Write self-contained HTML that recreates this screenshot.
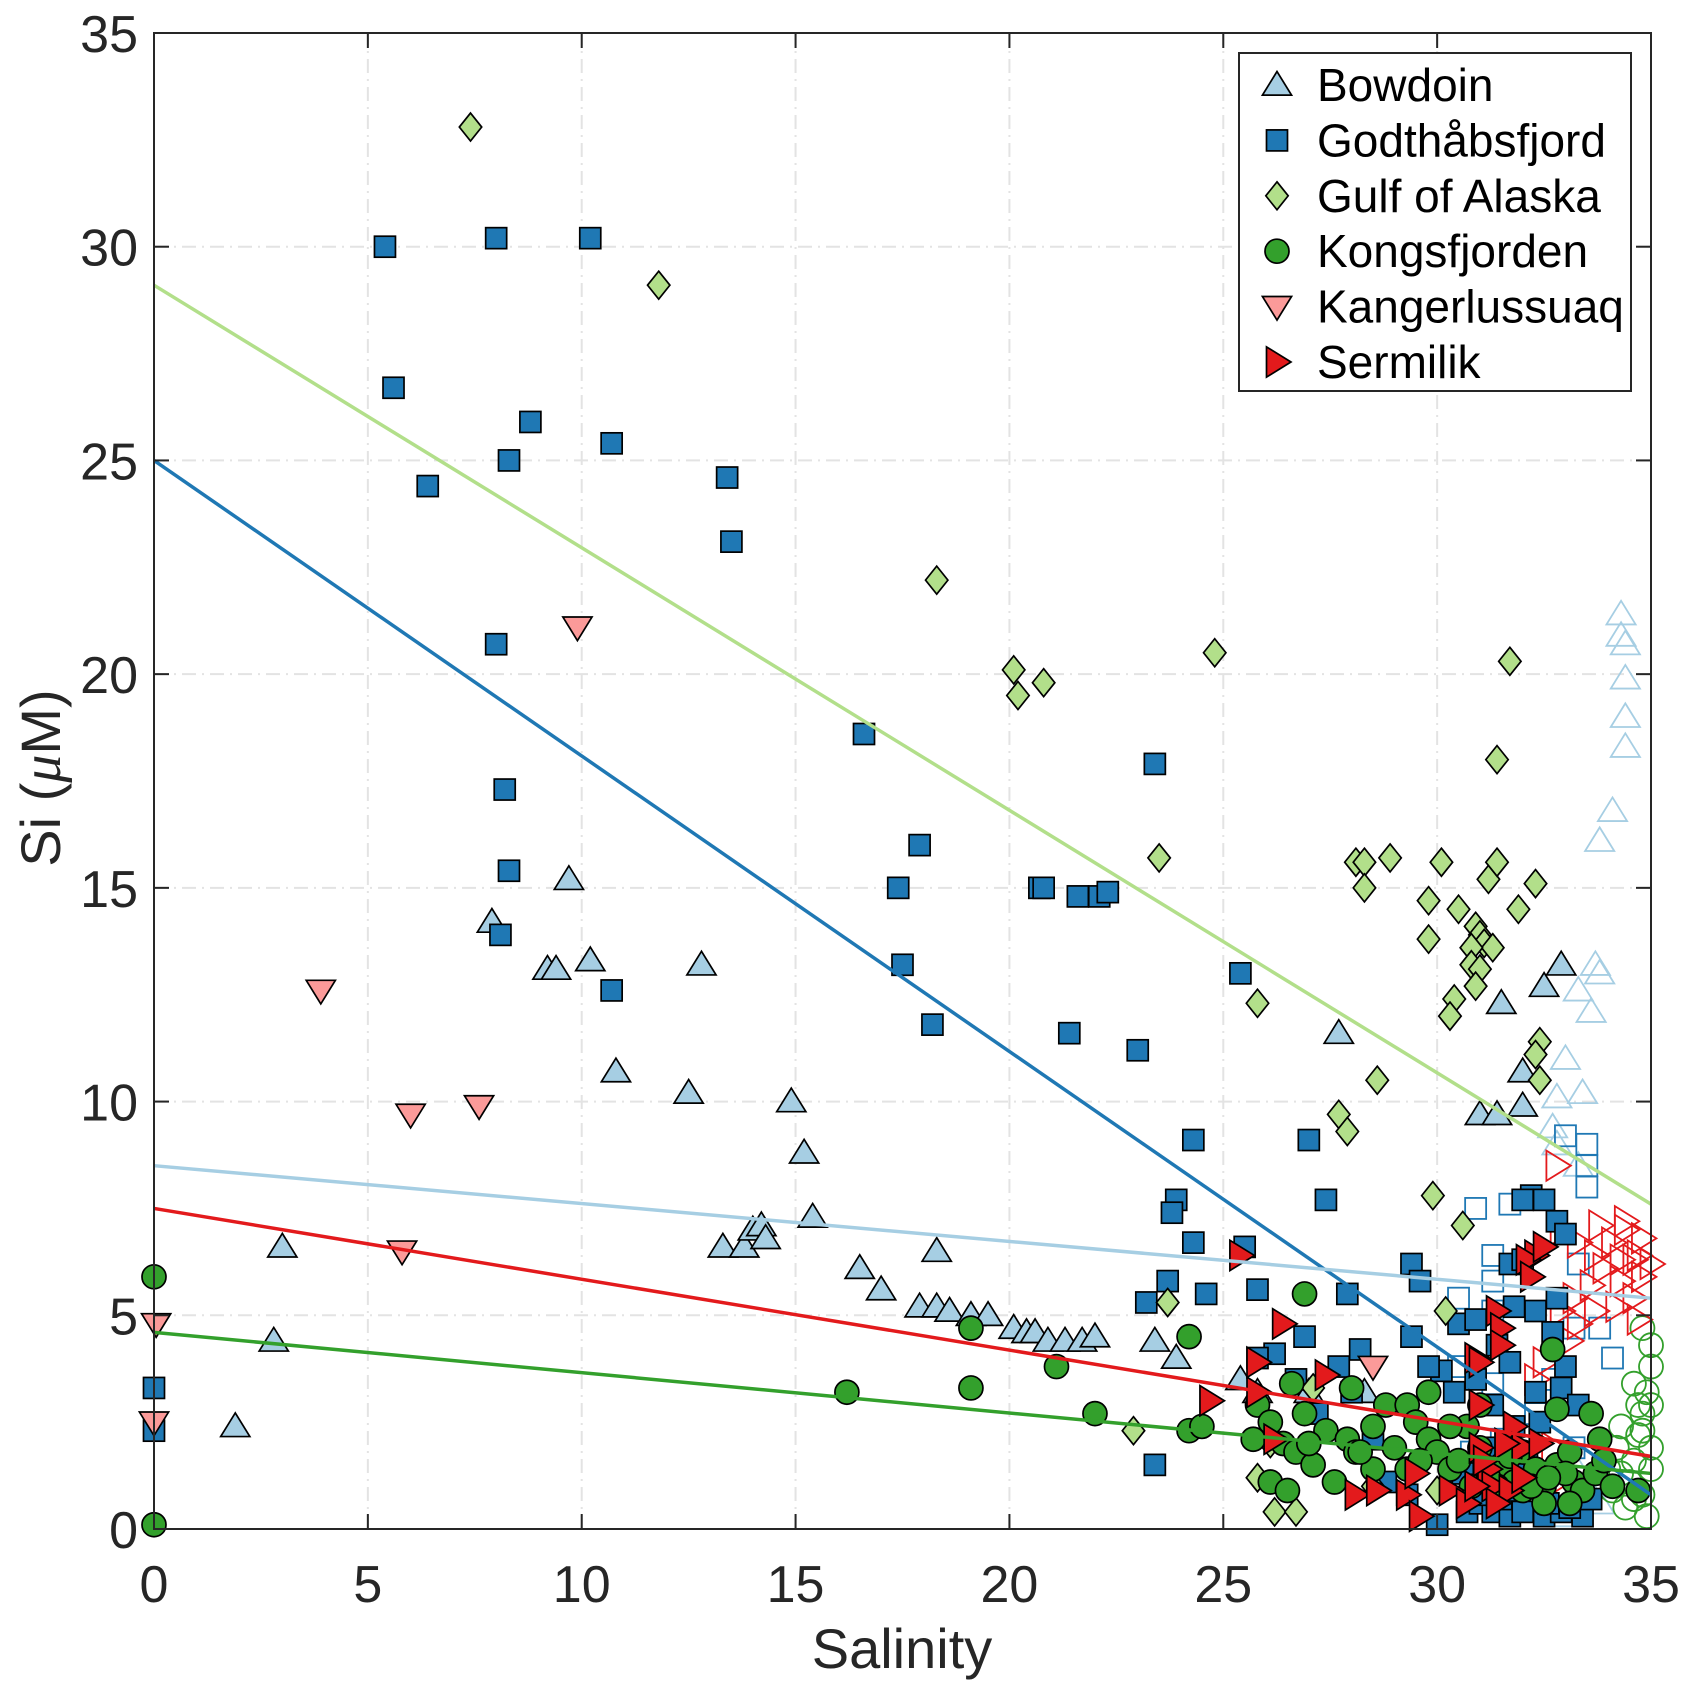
<!DOCTYPE html>
<html><head><meta charset="utf-8"><style>
html,body{margin:0;padding:0;background:#fff;}
svg{display:block;font-family:"Liberation Sans",Arial,sans-serif;}
</style></head><body>
<svg id="chart" width="1693" height="1695" viewBox="0 0 1693 1695" xmlns="http://www.w3.org/2000/svg">
<rect width="1693" height="1695" fill="#fff"/>
<g id="grid"></g>
<g id="points"></g>
<g id="fits"></g>
<g id="axes"></g>
<g id="legend"></g>
</svg>
<script>
const xTicks=[0,5,10,15,20,25,30,35];
const yTicks=[0,5,10,15,20,25,30,35];
const seriesNames=["Bowdoin","Godthåbsfjord","Gulf of Alaska","Kongsfjorden","Kangerlussuaq","Sermilik"];
const fitBowdoin=[8.5,5.4];
const fitGodthab=[25.0,0.8];
const fitAlaska=[29.1,7.6];
const fitKongs=[4.6,1.3];
const fitSermilik=[7.5,1.7];
const bowdoinX=[1.9,2.8,3.0,7.9,9.7,9.2,9.4,10.2,10.8,12.5,12.8,14.9,15.2,15.4,13.3,13.8,14.0,14.2,14.3,16.5,17.0,17.9,18.3,18.3,18.6,19.1,19.5,20.1,20.4,20.6,20.9,21.3,21.7,22.0,23.4,23.9,25.4,25.8,27.7,31.5,32.5,32.9,31.0,31.4,32.0,32.0,27.0,28.3];
const bowdoinY=[2.4,4.4,6.6,14.2,15.2,13.1,13.1,13.3,10.7,10.2,13.2,10.0,8.8,7.3,6.6,6.6,7.0,7.1,6.8,6.1,5.6,5.2,5.2,6.5,5.1,5.0,5.0,4.7,4.6,4.6,4.4,4.4,4.4,4.5,4.4,4.0,3.5,3.2,11.6,12.3,12.7,13.2,9.7,9.7,10.7,9.9,3.2,3.2];
const bowdoinOpenX=[34.3,34.3,34.4,34.4,34.4,34.4,34.1,33.8,33.7,33.8,33.6,33.3,33.0,33.4,32.8,32.7,32.8,33.3,33.5,33.8,33.2,33.0];
const bowdoinOpenY=[21.4,20.9,20.7,19.9,19.0,18.3,16.8,16.1,13.2,13.0,12.1,12.6,11.0,10.2,10.1,9.4,9.0,8.5,1.0,0.6,1.5,0.3];
const godthabX=[0,0,5.4,5.6,6.4,8.0,10.2,8.8,8.3,10.7,13.4,13.5,8.0,8.2,8.3,8.1,10.7,16.6,17.9,17.4,17.5,18.2,20.7,20.8,21.6,22.1,22.3,21.4,23.0,23.4,25.4,24.3,27.0,27.4,23.9,23.8,24.3,25.5,23.7,24.6,25.8,23.2,23.4,27.9,29.4,29.6,29.4,26.9,26.2,25.8,28.2,27.7,26.7,30.5,30.9,30.1,29.8,30.4,30.0,30.7,31.0,31.3,31.7,32.0,32.5,32.9,33.4,32.2,32.0,32.5,32.8,31.7,32.0,31.8,32.3,32.8,31.4,31.7,33.0,32.3,31.3,31.8,31.2,32.1,32.9,33.3,31.4,28.8,29.3,28.0,27.2,28.5,31.0,31.5,32.6,33.1,31.9,30.6,33.6,32.4,31.6,30.9,32.7,33.0];
const godthabY=[3.3,2.3,30.0,26.7,24.4,30.2,30.2,25.9,25.0,25.4,24.6,23.1,20.7,17.3,15.4,13.9,12.6,18.6,16.0,15.0,13.2,11.8,15.0,15.0,14.8,14.8,14.9,11.6,11.2,17.9,13.0,9.1,9.1,7.7,7.7,7.4,6.7,6.6,5.8,5.5,5.6,5.3,1.5,5.5,6.2,5.8,4.5,4.5,4.1,4.0,4.2,3.8,3.5,4.8,4.9,3.7,3.8,3.2,0.1,0.4,0.6,0.4,0.3,0.4,0.3,0.4,0.3,7.8,7.7,7.7,7.2,6.2,6.3,5.2,5.1,5.4,4.3,3.9,3.8,3.2,2.9,2.4,1.9,1.6,3.3,2.9,1.1,1.1,0.8,3.2,2.7,2.1,0.8,0.7,0.6,0.5,0.9,1.3,0.7,2.5,2.0,3.5,4.6,6.9];
const godthabOpenX=[33.0,33.5,33.5,33.5,30.9,31.7,31.3,31.3,30.5,31.3,33.3,33.2,33.8,34.1,32.7,32.3,31.5,30.8,33.2,32.8,30.5,31.3];
const godthabOpenY=[9.2,9.0,8.5,8.0,7.5,7.6,6.4,5.8,5.4,5.1,6.2,4.7,4.7,4.0,3.5,2.7,2.1,1.8,1.9,0.5,3.8,3.4];
const alaskaX=[7.4,11.8,18.3,20.1,20.2,20.8,24.8,31.7,31.4,23.5,28.1,28.3,28.3,28.9,30.1,29.8,30.5,31.2,31.4,31.9,32.3,30.9,31.0,29.8,31.1,31.3,30.8,30.8,31.0,30.9,30.4,30.3,25.8,32.4,32.3,32.4,28.6,27.7,27.9,29.9,30.6,23.7,30.2,27.1,22.9,25.8,26.2,26.7,28.5,30.0,26.1];
const alaskaY=[32.8,29.1,22.2,20.1,19.5,19.8,20.5,20.3,18.0,15.7,15.6,15.6,15.0,15.7,15.6,14.7,14.5,15.2,15.6,14.5,15.1,14.1,13.9,13.8,13.7,13.6,13.6,13.2,13.1,12.7,12.4,12.0,12.3,11.4,11.1,10.5,10.5,9.7,9.3,7.8,7.1,5.3,5.1,3.3,2.3,1.2,0.4,0.4,1.0,0.9,2.0];
const kongsX=[0,0,16.2,19.1,19.1,21.1,22.0,24.2,24.2,24.5,26.9,25.8,26.1,25.7,26.4,26.6,26.7,27.1,26.9,27.4,28.0,27.9,28.1,28.5,28.8,29.0,29.3,29.5,29.8,30.0,30.3,29.3,28.5,27.6,26.1,26.5,30.7,31.0,31.5,31.8,32.0,32.3,32.5,32.8,33.1,33.2,33.4,33.7,33.8,33.6,32.8,32.0,31.4,30.8,30.3,29.8,34.7,32.7,32.5,31.0,33.1,30.5,31.2,32.2,33.0,33.9,34.1,29.6,28.2,27.0,31.7,32.6];
const kongsY=[5.9,0.1,3.2,3.3,4.7,3.8,2.7,4.5,2.3,2.4,5.5,2.9,2.5,2.1,2.0,3.4,1.8,1.5,2.7,2.3,3.3,2.1,1.8,2.4,2.9,1.9,2.9,2.5,2.1,1.8,1.4,1.4,1.4,1.1,1.1,0.9,2.4,1.9,1.5,1.1,1.8,1.4,1.0,1.5,1.8,1.1,0.9,1.3,2.1,2.7,2.8,0.9,1.0,1.0,2.4,3.2,0.9,4.2,0.6,2.9,0.6,1.6,1.2,1.0,1.3,1.6,1.0,1.6,1.8,2.0,1.7,1.2];
const kongsOpenX=[35,35,34.9,35,34.8,34.8,35,34.6,34.3,34.1,34.4,34.8,35,34.7,34.3,34.7,34.6,34.2,34.8,34.5,34.9,34.0,34.6];
const kongsOpenY=[4.3,3.8,3.2,2.9,2.7,2.3,1.9,1.6,1.3,0.9,0.5,0.8,1.4,2.2,2.4,2.9,3.4,1.9,4.7,1.1,0.3,1.4,0.7];
const kangerX=[0.05,0,3.9,6.0,7.6,5.8,9.9,28.5];
const kangerY=[4.8,2.5,12.6,9.7,9.9,6.5,21.1,3.8];
const sermilikX=[25.4,24.7,25.8,26.4,27.4,25.8,26.2,28.1,28.6,29.3,29.6,29.5,30.9,31.0,31.4,31.5,31.5,31.0,31.0,31.2,31.3,31.7,31.8,32.0,32.4,32.3,32.1,32.2,32.5,30.3,30.7,31.1,31.6,32.0,31.4,30.9];
const sermilikY=[6.4,3.0,3.9,4.8,3.6,3.2,2.1,0.8,0.9,0.8,0.3,1.3,4.0,3.9,5.1,4.7,4.3,2.9,1.9,1.4,1.0,0.9,2.4,1.9,2.0,6.4,6.3,5.9,6.6,0.9,0.6,1.6,2.0,1.2,0.6,1.0];
const sermilikOpenX=[32.9,33.3,33.7,34.1,34.4,34.7,34.8,34.3,33.9,33.6,33.2,32.9,33.3,33.7,34.2,34.6,34.8,34.3,32.8,33.1,32.5,32.3,34.7,35.0,32.7,32.4,32.8,33.8,34.4,34.6];
const sermilikOpenY=[7.0,6.7,6.4,6.7,7.0,6.4,5.9,5.8,6.1,5.7,5.4,5.1,4.8,5.1,5.2,5.4,6.8,6.3,8.5,4.4,3.9,3.5,4.9,6.2,1.9,1.4,1.1,7.1,7.2,6.3];

const NS="http://www.w3.org/2000/svg";
const X0=154,X1=1651,Y0=1529,Y1=33;
function sx(v){return X0+v*(X1-X0)/35;}
function sy(v){return Y0-v*(Y0-Y1)/35;}
function mk(tag,attrs,parent){const e=document.createElementNS(NS,tag);for(const k in attrs)e.setAttribute(k,attrs[k]);parent.appendChild(e);return e;}
const grid=document.getElementById('grid'),pts=document.getElementById('points'),fits=document.getElementById('fits'),axes=document.getElementById('axes'),leg=document.getElementById('legend');

xTicks.forEach(t=>{
  const l=mk('line',{x1:sx(t),x2:sx(t),y1:Y0,y2:Y1,stroke:'#e3e3e3','stroke-width':2,'stroke-dasharray':'14 6 2 6'},grid);
  
  
});
yTicks.forEach(t=>{
  const l=mk('line',{x1:X0,x2:X1,y1:sy(t),y2:sy(t),stroke:'#e3e3e3','stroke-width':2,'stroke-dasharray':'14 6 2 6'},grid);
  
  
});

function marker(shape,x,y,fill,stroke,sw,parent){
  let e;
  if(shape==='tri'){const r=13.5;e=mk('polygon',{points:`${x},${y-r} ${x-r*1.08},${y+r*0.75} ${x+r*1.08},${y+r*0.75}`},parent);}
  else if(shape==='sq'){e=mk('rect',{x:x-10.5,y:y-10.5,width:21,height:21},parent);}
  else if(shape==='dia'){const r=14;e=mk('polygon',{points:`${x},${y-r} ${x+r*0.8},${y} ${x},${y+r} ${x-r*0.8},${y}`},parent);}
  else if(shape==='circ'){e=mk('circle',{cx:x,cy:y,r:12},parent);}
  else if(shape==='dtri'){const r=13.5;e=mk('polygon',{points:`${x},${y+r} ${x-r*1.08},${y-r*0.75} ${x+r*1.08},${y-r*0.75}`},parent);}
  else {const r=14;e=mk('polygon',{points:`${x+r},${y} ${x-r*0.75},${y-r*1.08} ${x-r*0.75},${y+r*1.08}`},parent);}
  e.setAttribute('fill',fill);e.setAttribute('stroke',stroke);e.setAttribute('stroke-width',sw);
  return e;
}
function drawOpen(xs,ys,shape,color,name){
  xs.forEach((v,i)=>{
    const e=marker(shape,sx(v),sy(ys[i]),'none',color,1.8,pts);
    
    
  });
}
function drawFilled(xs,ys,shape,color,name){
  xs.forEach((v,i)=>{
    const e=marker(shape,sx(v),sy(ys[i]),color,'#000',1.7,pts);
    
    
  });
}
const C={bow:'#a6cee3',god:'#1f78b4',ala:'#b2df8a',kon:'#33a02c',kan:'#fb9a99',ser:'#e31a1c'};
drawOpen(bowdoinOpenX,bowdoinOpenY,'tri',C.bow,'bowdoin-open-point');
drawOpen(godthabOpenX,godthabOpenY,'sq',C.god,'godthabsfjord-open-point');
drawOpen(kongsOpenX,kongsOpenY,'circ',C.kon,'kongsfjorden-open-point');
drawOpen(sermilikOpenX,sermilikOpenY,'rtri',C.ser,'sermilik-open-point');
drawFilled(bowdoinX,bowdoinY,'tri',C.bow,'bowdoin-point');
drawFilled(godthabX,godthabY,'sq',C.god,'godthabsfjord-point');
drawFilled(alaskaX,alaskaY,'dia',C.ala,'gulf-of-alaska-point');
drawFilled(kongsX,kongsY,'circ',C.kon,'kongsfjorden-point');
drawFilled(kangerX,kangerY,'dtri',C.kan,'kangerlussuaq-point');
drawFilled(sermilikX,sermilikY,'rtri',C.ser,'sermilik-point');

function fit(f,color,name){
  const l=mk('line',{x1:sx(0),y1:sy(f[0]),x2:sx(35),y2:sy(f[1]),stroke:color,'stroke-width':3.5},fits);
  
  
}
fit(fitAlaska,C.ala,'gulf-of-alaska-fit-line');
fit(fitGodthab,C.god,'godthabsfjord-fit-line');
fit(fitBowdoin,C.bow,'bowdoin-fit-line');
fit(fitSermilik,C.ser,'sermilik-fit-line');
fit(fitKongs,C.kon,'kongsfjorden-fit-line');

const box=mk('rect',{x:X0,y:Y1,width:X1-X0,height:Y0-Y1,fill:'none',stroke:'#262626','stroke-width':2},axes);


xTicks.forEach(t=>{
  mk('line',{x1:sx(t),x2:sx(t),y1:Y0,y2:Y0-15,stroke:'#262626','stroke-width':2},axes);
  mk('line',{x1:sx(t),x2:sx(t),y1:Y1,y2:Y1+15,stroke:'#262626','stroke-width':2},axes);
  const tx=mk('text',{x:sx(t),y:1602,'text-anchor':'middle','font-size':52,fill:'#262626'},axes);
  tx.textContent=t;
  
  
});
yTicks.forEach(t=>{
  mk('line',{x1:X0,x2:X0+15,y1:sy(t),y2:sy(t),stroke:'#262626','stroke-width':2},axes);
  mk('line',{x1:X1,x2:X1-15,y1:sy(t),y2:sy(t),stroke:'#262626','stroke-width':2},axes);
  const tx=mk('text',{x:138,y:sy(t)+19,'text-anchor':'end','font-size':52,fill:'#262626'},axes);
  tx.textContent=t;
  
  
});
const xl=mk('text',{x:902,y:1668,'text-anchor':'middle','font-size':56,fill:'#262626'},axes);
xl.textContent='Salinity';


const yl=mk('text',{x:0,y:0,'text-anchor':'middle','font-size':56,fill:'#262626',transform:'translate(60,778) rotate(-90)'},axes);
yl.innerHTML='Si (<tspan font-style="italic" font-family="Liberation Serif, serif">μ</tspan>M)';



const lb=mk('rect',{x:1239,y:53,width:392,height:338,fill:'#fff',stroke:'#262626','stroke-width':2},leg);


const lshapes=['tri','sq','dia','circ','dtri','rtri'];
const lcols=[C.bow,C.god,C.ala,C.kon,C.kan,C.ser];
seriesNames.forEach((n,i)=>{
  const cy=85+i*55.4;
  const g=mk('g',{},leg);
  
  
  marker(lshapes[i],1277,cy,lcols[i],'#000',1.7,g);
  const t=mk('text',{x:1317,y:cy+16,'font-size':46,fill:'#000'},g);
  t.textContent=n;
});
</script>
</body></html>
